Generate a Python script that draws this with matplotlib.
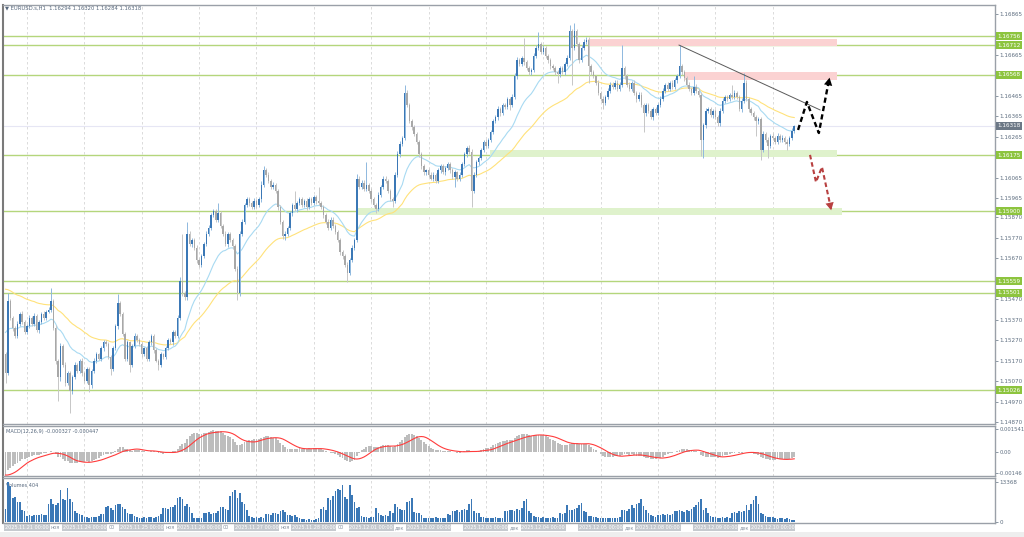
import matplotlib
matplotlib.use("Agg")
import matplotlib.pyplot as plt
import matplotlib.transforms as mtrans
from matplotlib.patches import Rectangle
import numpy as np
import pandas as pd

# ---------------- data (prices in points: price = 1 + v/100000) ----------------
PRE_CLOSE = [15820, 15840, 15810, 15830, 15820, 15800, 15820, 15840, 15810, 15800,
             15810, 15790, 15800, 15780, 15790, 15800, 15780, 15790, 15770, 15760,
             15720, 15680, 15640, 15600, 15560, 15520, 15480, 15440, 15400, 15360,
             15320, 15280, 15240, 15200, 15150, 15100, 15060, 15080, 15140, 15200]

CLOSE = [15110, 15460, 15380, 15330, 15290, 15350, 15400, 15360, 15310, 15340,
         15380, 15350, 15390, 15320, 15360, 15400, 15380, 15410, 15420, 15460,
         15330, 15170, 15090, 15240, 15150, 15060, 15110, 15020, 15090, 15150,
         15120, 15170, 15110, 15070, 15130, 15050, 15120, 15170, 15200, 15180,
         15230, 15260, 15250, 15190, 15130, 15230, 15340, 15450, 15400, 15300,
         15180, 15260, 15150, 15240, 15290, 15270, 15250, 15200, 15230, 15180,
         15260, 15290, 15220, 15170, 15150, 15200, 15190, 15230, 15270, 15260,
         15310, 15290, 15380, 15560, 15500, 15480, 15790, 15740, 15760, 15720,
         15660, 15640, 15680, 15740, 15790, 15820, 15880, 15900, 15860, 15890,
         15830, 15790, 15740, 15790, 15760, 15730, 15620, 15500, 15790, 15850,
         15930, 15960, 15940, 15920, 15950, 15930, 15960, 16030, 16100, 16080,
         16050, 16020, 16030, 16000, 15920, 15850, 15780, 15790, 15820, 15890,
         15930, 15910, 15940, 15960, 15930, 15950, 15920, 15960, 15940, 15970,
         15950, 15940, 15920, 15880, 15850, 15820, 15860, 15830, 15800, 15760,
         15700, 15680, 15640, 15600, 15660, 15720, 15760, 16060, 16020, 16040,
         16010, 16030, 16000, 15960, 15930, 15910, 15980, 16020, 16060, 16050,
         16000, 15960, 15950, 16080, 16180, 16230, 16260, 16480, 16420, 16340,
         16310, 16280, 16240, 16180, 16120, 16090, 16100, 16080, 16060, 16080,
         16050, 16100, 16120, 16090, 16110, 16130, 16100, 16070, 16090, 16060,
         16080, 16130, 16180, 16210, 16190, 16000, 16080, 16140, 16160, 16200,
         16240, 16220, 16250, 16290, 16340, 16360, 16400, 16380, 16420, 16410,
         16450, 16420, 16460, 16560, 16640, 16620, 16650, 16630, 16600, 16580,
         16590, 16660, 16700, 16720, 16680, 16700, 16660, 16640, 16610, 16600,
         16580, 16570, 16600, 16580, 16620, 16650, 16780, 16700, 16780, 16720,
         16640, 16700, 16730, 16740, 16610, 16580, 16560, 16530, 16480, 16450,
         16430, 16460, 16490, 16520, 16510, 16530, 16500, 16520, 16600, 16560,
         16520, 16500, 16530, 16480, 16450, 16470, 16420, 16380, 16420, 16390,
         16360, 16400, 16380, 16420, 16450, 16490, 16520, 16500, 16530, 16510,
         16540, 16560, 16610, 16580, 16550, 16520, 16500, 16480, 16510, 16490,
         16470, 16250, 16320, 16390, 16400, 16370, 16390, 16360, 16330, 16390,
         16440, 16460, 16450, 16470, 16460, 16480, 16460, 16400, 16440, 16530,
         16450, 16400, 16380, 16360, 16340, 16350, 16200, 16280, 16250, 16220,
         16270, 16260, 16240, 16270, 16250, 16260, 16240, 16230, 16260, 16294,
         16318]

UPW = [10, 40, 12, 8, 10, 14, 9, 12, 7, 10,
       12, 9, 14, 8, 11, 10, 13, 9, 12, 65,
       10, 12, 8, 14, 10, 12, 9, 11, 8, 13,
       10, 9, 12, 8, 10, 11, 9, 12, 10, 8,
       11, 9, 13, 10, 8, 12, 10, 45, 12, 9,
       10, 12, 8, 11, 13, 9, 10, 12, 8, 10,
       11, 9, 12, 10, 8, 13, 9, 11, 10, 12,
       9, 11, 14, 20, 230, 12, 60, 15, 10, 12,
       14, 10, 12, 9, 15, 11, 13, 10, 12, 50,
       12, 10, 14, 9, 11, 12, 10, 13, 15, 12,
       10, 12, 9, 11, 13, 10, 12, 20, 20, 14,
       11, 9, 12, 10, 8, 13, 10, 12, 9, 11,
       10, 70, 12, 9, 11, 10, 13, 9, 11, 10,
       12, 70, 10, 9, 11, 13, 10, 12, 9, 11,
       10, 12, 9, 11, 10, 13, 12, 25, 14, 11,
       12, 110, 10, 12, 9, 11, 13, 10, 14, 12,
       10, 9, 12, 11, 14, 12, 10, 40, 13, 11,
       10, 12, 9, 11, 10, 12, 9, 11, 10, 12,
       9, 11, 13, 10, 12, 9, 11, 10, 12, 9,
       11, 13, 12, 10, 12, 14, 10, 12, 11, 9,
       10, 12, 11, 9, 12, 10, 13, 11, 10, 12,
       11, 9, 12, 15, 14, 12, 10, 100, 12, 10,
       11, 13, 12, 55, 10, 12, 9, 11, 10, 12,
       9, 11, 13, 10, 12, 14, 30, 14, 40, 12,
       10, 13, 11, 12, 14, 10, 12, 9, 11, 10,
       12, 10, 13, 11, 12, 10, 12, 11, 115, 12,
       10, 12, 9, 11, 10, 13, 12, 10, 12, 11,
       9, 12, 10, 11, 13, 12, 10, 12, 9, 11,
       10, 13, 105, 12, 11, 10, 12, 9, 50, 11,
       10, 12, 14, 13, 11, 10, 12, 9, 11, 13,
       12, 10, 11, 9, 50, 12, 10, 11, 13, 45,
       12, 10, 11, 9, 12, 10, 13, 11, 10, 12,
       9, 11, 10, 12, 9, 11, 10, 12, 9, 14,
       2]

DNW = [50, 12, 10, 14, 9, 11, 13, 10, 12, 9,
       11, 10, 12, 9, 13, 10, 11, 12, 9, 14,
       12, 15, 115, 20, 12, 14, 11, 105, 13, 10,
       12, 10, 13, 11, 9, 35, 12, 10, 11, 9,
       10, 12, 9, 11, 30, 12, 10, 13, 11, 12,
       14, 10, 35, 12, 9, 11, 10, 12, 9, 13,
       10, 12, 11, 9, 25, 10, 12, 11, 9, 10,
       12, 10, 11, 13, 12, 14, 12, 10, 12, 11,
       13, 10, 12, 9, 11, 10, 12, 9, 11, 13,
       10, 12, 11, 13, 10, 12, 14, 35, 12, 10,
       11, 9, 12, 10, 11, 13, 10, 12, 9, 11,
       10, 12, 9, 11, 13, 12, 14, 20, 12, 10,
       11, 10, 12, 9, 11, 10, 12, 9, 11, 10,
       12, 10, 11, 13, 12, 10, 12, 11, 13, 12,
       14, 12, 13, 45, 12, 10, 11, 9, 12, 10,
       11, 10, 12, 13, 11, 20, 10, 12, 9, 11,
       12, 10, 30, 11, 10, 12, 9, 11, 12, 10,
       11, 12, 10, 13, 11, 12, 10, 11, 9, 12,
       10, 11, 12, 9, 11, 10, 12, 11, 50, 12,
       10, 11, 9, 12, 10, 80, 12, 10, 11, 9,
       12, 10, 11, 9, 12, 10, 11, 12, 10, 11,
       12, 25, 10, 11, 12, 10, 11, 12, 10, 12,
       11, 10, 12, 11, 10, 12, 11, 13, 12, 10,
       12, 40, 11, 10, 12, 11, 10, 180, 12, 11,
       13, 10, 12, 11, 80, 12, 10, 11, 12, 10,
       30, 12, 10, 11, 12, 10, 11, 12, 10, 12,
       11, 10, 12, 11, 13, 12, 10, 90, 12, 11,
       10, 12, 11, 10, 12, 11, 10, 12, 11, 10,
       12, 11, 10, 12, 11, 10, 12, 11, 10, 12,
       11, 80, 90, 12, 10, 11, 12, 10, 11, 12,
       10, 11, 12, 10, 11, 12, 10, 11, 12, 10,
       11, 12, 10, 12, 70, 11, 50, 12, 10, 60,
       12, 10, 11, 12, 10, 11, 12, 30, 10, 12,
       10]

VOLUME = [4200, 13368, 12000, 8100, 8300, 6800, 6500, 4000, 3700,
          2000, 2100, 1900, 2200, 2300, 2200, 2500, 2400, 2300, 6100, 7800, 6000,
          5500, 6200, 10600, 7500, 7200, 11200, 7500, 6800, 3500, 3000, 2600, 2200,
          1500, 1600, 1400, 1700, 1500, 1600, 1800, 2500, 2600, 5000, 5200, 4600,
          3900, 5500, 6100, 5800, 4800, 4200, 3000, 2600, 2500, 1800, 1500, 1400,
          1400, 1500, 1300, 1600, 1500, 1400, 1700, 2000, 2600, 4500, 4600, 4300,
          4800, 5000, 5500, 8000, 8200, 7600, 5200, 6000, 4800, 3000, 1400, 1200,
          1200, 1100, 3000, 2800, 3100, 2600, 2900, 3000, 3500, 5000, 4800, 4200,
          3800, 8500, 10000, 10800, 8000, 9500, 6500, 6000, 4000, 2000, 1500, 1400,
          1500, 1300, 1600, 1400, 2500, 2600, 2400, 2800, 3000, 2700, 3500, 3800,
          3300, 2400, 2200, 2000, 2100, 1700, 1200, 900, 800, 700, 900, 600,
          700, 900, 1200, 4300, 4800, 4000, 8000, 7200, 8500, 10500, 11000, 10600,
          12300, 8400, 7800, 12300, 9000, 6500, 4500, 4800, 2000, 1600, 1500, 1300,
          1500, 1700, 4500, 2800, 2400, 2000, 2100, 2000, 3500, 3000, 5900, 5000,
          4200, 3800, 4000, 6500, 7000, 8000, 3100, 3000, 2900, 2200, 1300, 1200,
          1300, 1400, 1200, 1500, 1300, 1400, 1200, 1300, 2500, 2300, 3700, 3500,
          3800, 3200, 4000, 4200, 4000, 6000, 7600, 3500, 3000, 2800, 1700, 1500,
          1300, 1200, 1400, 1300, 1500, 1200, 1400, 1300, 3700, 3500, 3800, 4000,
          3600, 4200, 3800, 4500, 7000, 7800, 3500, 3000, 2000, 1600, 1500, 1400,
          1500, 1300, 1400, 1200, 1500, 1300, 1400, 2800, 2600, 3000, 5600, 4000,
          3800, 4200, 4500, 5500, 6200, 3500, 3200, 2000, 1800, 1700, 1500, 1300,
          1300, 1200, 1400, 1100, 1300, 1200, 1300, 1200, 1500, 4000, 3800, 3600,
          4200, 5500, 4500, 5800, 6200, 7600, 5200, 4000, 3000, 2200, 2000, 1500,
          2200, 2400, 2500, 2300, 2600, 2400, 2500, 3700, 3500, 3800, 3600, 3400,
          3900, 3700, 4200, 5000, 5500, 6700, 7600, 4000, 4500, 3000, 1800, 1500,
          1500, 1300, 1400, 1600, 1300, 1500, 1400, 3000, 3200, 2800, 3500, 3300,
          3600, 5500, 4000, 5800, 7300, 8800, 6000, 2800, 2500, 2000, 1600, 1500,
          1500, 1200, 1000, 1400, 1300, 1000, 1200, 800, 600, 404]

DAY_BARS = [9, 33, 57, 81, 105, 129, 153, 177, 201, 225, 249, 273, 297, 321]
DAY_LABELS = ["2025.11.21 00:00", "2025.11.24 00:00", "2025.11.25 00:00", "2025.11.26 00:00",
              "2025.11.27 00:00", "2025.11.28 00:00", "2025.12.01 00:00", "2025.12.02 00:00",
              "2025.12.03 00:00", "2025.12.04 00:00", "2025.12.05 00:00", "2025.12.08 00:00",
              "2025.12.09 00:00", "2025.12.10 00:00"]
DAY_FRAGMENTS = ["ноя", "00", "ноя", "00", "ноя", "00", "дек", "", "дек", "", "дек", "", "дек", ""]

PRICE_TICKS = [1.16865, 1.16665, 1.16465, 1.16365, 1.16265, 1.16065, 1.15965, 1.15870,
               1.15770, 1.15670, 1.15470, 1.15370, 1.15270, 1.15170, 1.15070, 1.14970, 1.14870]
LEVELS = [1.16756, 1.16712, 1.16568, 1.16175, 1.15900, 1.15559, 1.15501, 1.15026]
LAST_PRICE = 1.16318
MACD_TICKS = [0.001541, 0.0, -0.00146]
MACD_TICK_LABELS = ["0.001541", "0.00", "-0.00146"]
VOL_TICKS = [13368, 0]

RED_ZONES = [(243.7, 347.9, 1.16708, 1.16743), (284.0, 347.9, 1.16542, 1.16581)]
GREEN_ZONES = [(202.7, 347.9, 1.16166, 1.16200), (147.0, 350.0, 1.15882, 1.15917)]
TREND = ([281.8, 340.8], [1.16713, 1.16396])
UP_PATH = ([331.6, 335.3, 340.3, 345.0], [1.16298, 1.16435, 1.16283, 1.16567])
DOWN_PATH = ([336.6, 339.1, 341.6, 345.7], [1.16176, 1.16043, 1.16117, 1.15892])

TITLE = "\u25bc EURUSD.s,H1  1.16294 1.16320 1.16284 1.16318"
MACD_TITLE = "MACD(12,26,9) -0.000327 -0.000447"
VOL_TITLE = "Volumes 404"

# ---------------- derived ----------------
N = len(CLOSE)
closes = 1 + np.array(CLOSE) / 1e5
opens = 1 + np.array([PRE_CLOSE[-1]] + CLOSE[:-1]) / 1e5
highs = np.maximum(opens, closes) + np.array(UPW) / 1e5
lows = np.minimum(opens, closes) - np.array(DNW) / 1e5
x = np.arange(N)

allc = pd.Series(1 + np.array(PRE_CLOSE + CLOSE) / 1e5)
ma_fast = allc.ewm(span=20, adjust=False).mean().values[-N:]
ma_slow = allc.ewm(span=50, adjust=False).mean().values[-N:]
macd_main = (allc.ewm(span=12, adjust=False).mean() - allc.ewm(span=26, adjust=False).mean())
macd_sig = macd_main.rolling(9, min_periods=1).mean()
macd_main = macd_main.values[-N:]
macd_sig = macd_sig.values[-N:]

# ---------------- figure ----------------
W, H = 1024, 537
fig = plt.figure(figsize=(W / 100, H / 100), dpi=100)
fig.patch.set_facecolor("white")


def rect(top, bottom, left=3, right=995):
    return [left / W, 1 - bottom / H, (right - left) / W, (bottom - top) / H]


ax = fig.add_axes(rect(5, 424))
axm = fig.add_axes(rect(426, 476))
axv = fig.add_axes(rect(478, 523))

XL = (-1.05, 414.0)
TICK_COL = "#5e6e80"
for a in (ax, axm, axv):
    a.set_xlim(*XL)
    a.set_xticks([])
    a.yaxis.tick_right()
    a.tick_params(axis="y", labelsize=4.1, colors=TICK_COL, length=2, width=0.5, pad=1.0)
    for s in a.spines.values():
        s.set_color("#9aa0a8")
        s.set_linewidth(1.0)
    a.spines["left"].set_color("#7a7a7a")
    a.spines["left"].set_linewidth(1.5)
    for db in DAY_BARS:
        a.axvline(db, color="#d6d6d6", lw=0.6, ls=(0, (3, 3)), zorder=0)

# ---- main price panel ----
ax.set_ylim(1.148601, 1.169090)
ax.set_yticks(PRICE_TICKS)
ax.set_yticklabels([f"{t:.5f}" for t in PRICE_TICKS])

ax.axhline(LAST_PRICE, color="#e6e6f4", lw=0.8, zorder=1)
for lv in LEVELS:
    ax.axhline(lv, color="#b4d67c", lw=1.0, zorder=1)

for (x0, x1, p0, p1) in RED_ZONES:
    ax.add_patch(Rectangle((x0, p0), x1 - x0, p1 - p0, fc="#fbd2d2", ec="none", zorder=1.5))
for (x0, x1, p0, p1) in GREEN_ZONES:
    ax.add_patch(Rectangle((x0, p0), x1 - x0, p1 - p0, fc="#dff2cc", ec="none", zorder=1.2))

ax.plot(x, ma_slow, color="#ffe27a", lw=0.8, zorder=2)
ax.plot(x, ma_fast, color="#a8daf2", lw=0.8, zorder=2)

bull = closes >= opens
wick_col = np.where(bull, "#8eb8de", "#c6c6c6")
body_col = np.where(bull, "#3b78b6", "#a8a8a8")
ax.vlines(x, lows, highs, colors=wick_col, lw=0.7, zorder=3)
body_h = np.maximum(np.abs(closes - opens), 0.000025)
ax.bar(x, body_h, bottom=np.minimum(opens, closes), width=0.62, color=body_col,
       linewidth=0, zorder=4)

ax.plot(TREND[0], TREND[1], color="#5a5a5a", lw=0.7, zorder=5)

ax.plot(UP_PATH[0][:-1] + [UP_PATH[0][-1] - 0.4], UP_PATH[1][:-1] + [UP_PATH[1][-1] - 0.0002],
        color="black", lw=1.7, ls=(0, (2.2, 1.4)), zorder=6)
ax.annotate("", xy=(UP_PATH[0][-1], UP_PATH[1][-1]),
            xytext=(UP_PATH[0][-2] + 0.6 * (UP_PATH[0][-1] - UP_PATH[0][-2]),
                    UP_PATH[1][-2] + 0.6 * (UP_PATH[1][-1] - UP_PATH[1][-2])),
            arrowprops=dict(arrowstyle="-|>,head_length=0.55,head_width=0.3", color="black", lw=0),
            zorder=7)
ax.plot(DOWN_PATH[0][:-1] + [DOWN_PATH[0][-1] - 0.3], DOWN_PATH[1][:-1] + [DOWN_PATH[1][-1] + 0.0002],
        color="#b84040", lw=1.5, ls=(0, (2.2, 1.4)), zorder=6)
ax.annotate("", xy=(DOWN_PATH[0][-1], DOWN_PATH[1][-1]),
            xytext=(DOWN_PATH[0][-2] + 0.6 * (DOWN_PATH[0][-1] - DOWN_PATH[0][-2]),
                    DOWN_PATH[1][-2] + 0.6 * (DOWN_PATH[1][-1] - DOWN_PATH[1][-2])),
            arrowprops=dict(arrowstyle="-|>,head_length=0.55,head_width=0.3", color="#b84040", lw=0),
            zorder=7)

ytr = ax.get_yaxis_transform()
for lv in LEVELS:
    ax.text(1.0025, lv, f"{lv:.5f}", transform=ytr, fontsize=4.1, color="white",
            ha="left", va="center", zorder=10, clip_on=False,
            bbox=dict(boxstyle="square,pad=0.25", fc="#8dc43e", ec="none"))
ax.text(1.0025, LAST_PRICE, f"{LAST_PRICE:.5f}", transform=ytr, fontsize=4.1, color="white",
        ha="left", va="center", zorder=10, clip_on=False,
        bbox=dict(boxstyle="square,pad=0.25", fc="#6c7886", ec="none"))

fig.text(5 / W, 1 - 7.5 / H, TITLE, fontsize=3.8, color="#56677c", ha="left", va="center")

# ---- MACD panel ----
axm.set_ylim(-0.00164, 0.00177)
axm.bar(x, macd_main, width=0.8, color="#bdbdbd", linewidth=0, zorder=2)
axm.plot(x, macd_sig, color="#ff3c3c", lw=0.8, zorder=3)
axm.set_yticks(MACD_TICKS)
axm.set_yticklabels(MACD_TICK_LABELS)
axm.tick_params(axis="y", labelsize=3.8)
axm.text(0.003, 0.93, MACD_TITLE, transform=axm.transAxes, fontsize=3.6, color="#56677c",
         ha="left", va="top", zorder=5)

# ---- Volume panel ----
axv.set_ylim(-438, 14716)
axv.bar(x, VOLUME, width=0.7, color="#3b78b6", linewidth=0, zorder=2)
axv.set_yticks(VOL_TICKS)
axv.set_yticklabels([str(v) for v in VOL_TICKS])
axv.text(0.003, 0.88, VOL_TITLE, transform=axv.transAxes, fontsize=3.6, color="#56677c",
         ha="left", va="top", zorder=1)

# ---- date labels ----
btr = mtrans.blended_transform_factory(axv.transData, axv.transAxes)
for db, lab, frag in zip(DAY_BARS, DAY_LABELS, DAY_FRAGMENTS):
    axv.text(db, -0.1, lab, transform=btr, fontsize=3.5, color="white", ha="center", va="center",
             clip_on=False, bbox=dict(boxstyle="square,pad=0.15", fc="#c6cacf", ec="none"))
    if frag:
        axv.text(db + 10.0, -0.1, frag, transform=btr, fontsize=3.5, color="#8a96a4",
                 ha="left", va="center", clip_on=False)

fig.patches.append(Rectangle((0, 0), 1, 5 / H, transform=fig.transFigure, fc="#eeeeee",
                             ec="none", zorder=-1))

fig.savefig("out.png", dpi=100, facecolor="white")
